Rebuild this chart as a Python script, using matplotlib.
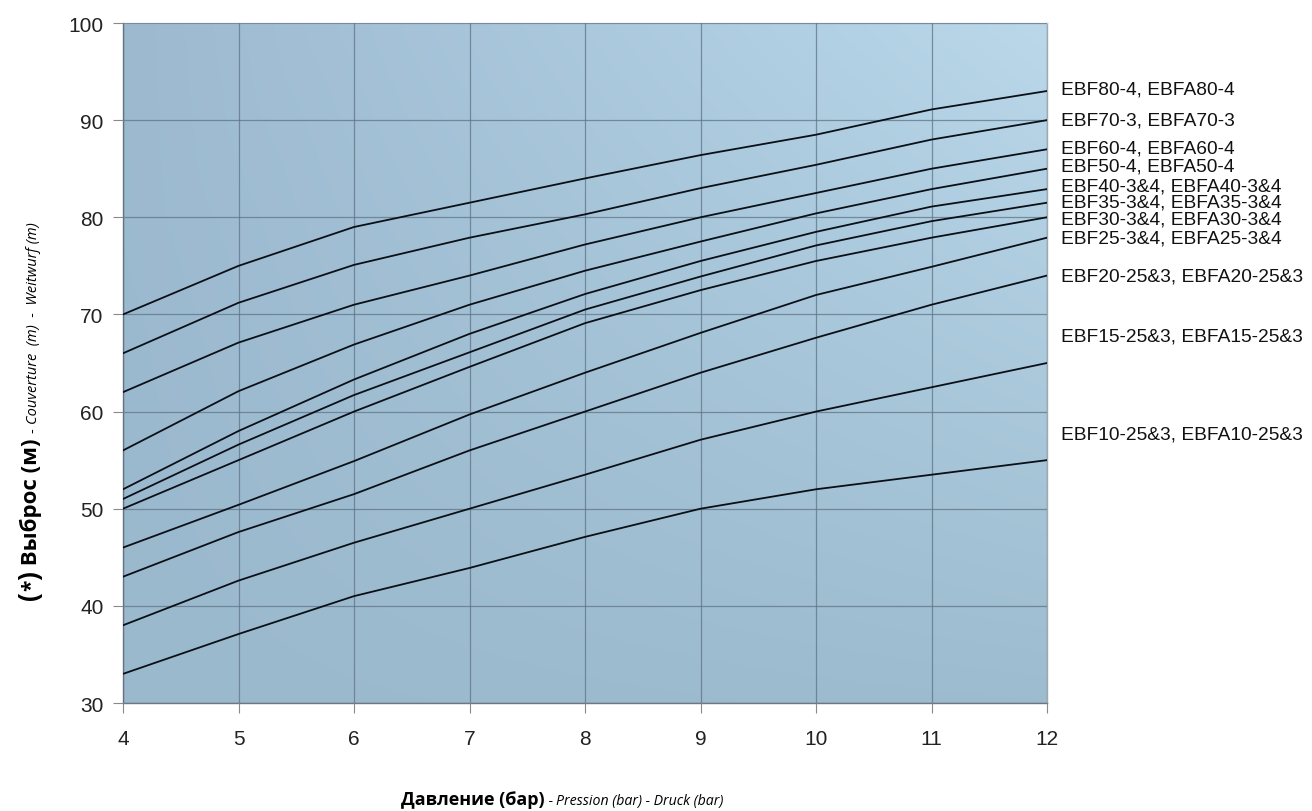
import numpy as np
import matplotlib
matplotlib.use("Agg")
import matplotlib.pyplot as plt

# ---- data ----
pressure = [4, 5, 6, 7, 8, 9, 10, 11, 12]

models = [
    "EBF80-4, EBFA80-4",
    "EBF70-3, EBFA70-3",
    "EBF60-4, EBFA60-4",
    "EBF50-4, EBFA50-4",
    "EBF40-3&4, EBFA40-3&4",
    "EBF35-3&4, EBFA35-3&4",
    "EBF30-3&4, EBFA30-3&4",
    "EBF25-3&4, EBFA25-3&4",
    "EBF20-25&3, EBFA20-25&3",
    "EBF15-25&3, EBFA15-25&3",
    "EBF10-25&3, EBFA10-25&3",
]

ebf80 = [70.0, 75.0, 79.0, 81.5, 84.0, 86.4, 88.5, 91.1, 93.0]
ebf70 = [66.0, 71.2, 75.1, 77.9, 80.3, 83.0, 85.4, 88.0, 90.0]
ebf60 = [62.0, 67.1, 71.0, 74.0, 77.2, 80.0, 82.5, 85.0, 87.0]
ebf50 = [56.0, 62.1, 66.9, 71.0, 74.5, 77.5, 80.4, 82.9, 85.0]
ebf40 = [52.0, 58.0, 63.3, 68.0, 72.1, 75.5, 78.5, 81.1, 82.9]
ebf35 = [51.0, 56.6, 61.7, 66.1, 70.5, 73.9, 77.1, 79.6, 81.5]
ebf30 = [50.0, 55.0, 60.0, 64.6, 69.1, 72.5, 75.5, 77.9, 80.0]
ebf25 = [46.0, 50.4, 54.9, 59.7, 64.0, 68.1, 72.0, 74.9, 77.9]
ebf20 = [43.0, 47.6, 51.5, 56.0, 60.0, 64.0, 67.6, 71.0, 74.0]
ebf15 = [38.0, 42.6, 46.5, 50.0, 53.5, 57.1, 60.0, 62.5, 65.0]
ebf10 = [33.0, 37.1, 41.0, 43.9, 47.1, 50.0, 52.0, 53.5, 55.0]

series = [ebf80, ebf70, ebf60, ebf50, ebf40, ebf35, ebf30, ebf25, ebf20, ebf15, ebf10]

x_ticks = [4, 5, 6, 7, 8, 9, 10, 11, 12]
y_ticks = [30, 40, 50, 60, 70, 80, 90, 100]

# label anchor heights (annotation placement, data units)
label_y = [93.2, 90.05, 87.13, 85.23, 83.17, 81.57, 79.82, 77.86, 73.96, 67.78, 57.69]

W, H = 1312, 812
fig = plt.figure(figsize=(W / 100, H / 100), dpi=100)
fig.patch.set_facecolor("white")

ax_l, ax_r, ax_t, ax_b = 123, 1047, 24, 704
ax = fig.add_axes([ax_l / W, 1 - ax_b / H, (ax_r - ax_l) / W, (ax_b - ax_t) / H])

ax.set_xlim(4, 12)
ax.set_ylim(30, 100)

# gradient background (bilinear between corner colours)
tl = np.array([156, 185, 208]) / 255
tr = np.array([186, 216, 234]) / 255
bl = np.array([155, 185, 205]) / 255
br = np.array([158, 188, 207]) / 255
nx, ny = 200, 100
u = np.linspace(0, 1, nx)[None, :, None]
v = np.linspace(0, 1, ny)[:, None, None]  # 0 top, 1 bottom
img = (1 - v) * ((1 - u) * tl + u * tr) + v * ((1 - u) * bl + u * br)
ax.imshow(img, extent=[4, 12, 30, 100], aspect="auto", origin="upper",
          interpolation="bilinear", zorder=0)

ax.set_xticks(x_ticks)
ax.set_yticks(y_ticks)
ax.grid(True, color="#5f7386", linewidth=0.9, alpha=0.75, zorder=1)
ax.set_axisbelow(False)

for ys in series:
    ax.plot(pressure, ys, color="#0a0f18", linewidth=1.3, zorder=3,
            solid_joinstyle="round")

for name, yl in zip(models, label_y):
    ax.text(12.12, yl, name, fontsize=13.8, family="Liberation Sans",
            va="center", ha="left", color="#111111", clip_on=False)

ax.tick_params(axis="both", direction="out", length=7, width=0.8,
               color="#8a8a8a", labelsize=15, labelcolor="#222222")
ax.tick_params(axis="x", pad=12)
ax.tick_params(axis="y", pad=7)
for lab in ax.get_xticklabels() + ax.get_yticklabels():
    lab.set_family("Liberation Sans")

for side, sp in ax.spines.items():
    sp.set_linewidth(1.0)
ax.spines["left"].set_color("#6d7780")
ax.spines["bottom"].set_color("#6d7780")
ax.spines["right"].set_color("#a0a8b0")
ax.spines["top"].set_color("#c8d2da")

# ---- composite axis titles ----
fig.canvas.draw()
renderer = fig.canvas.get_renderer()

def chain(segments, x0, y0, rotation):
    pos = [x0, y0]
    for txt, size, weight, style in segments:
        t = fig.text(pos[0] / W, pos[1] / H, txt, fontsize=size, fontweight=weight,
                     fontstyle=style, family="Open Sans", rotation=rotation,
                     rotation_mode="anchor", ha="left", va="baseline",
                     color="#000000")
        bb = t.get_window_extent(renderer)
        if rotation == 90:
            pos[1] = bb.y1
        else:
            pos[0] = bb.x1

y_segments = [
    ("(", 19, "bold", "normal"),
    ("*", 15, "bold", "normal"),
    (")", 19, "bold", "normal"),
    (" Выброс (м) ", 16, "bold", "normal"),
    ("- ", 10.5, "normal", "normal"),
    ("Couverture  (m)  -  Weitwurf (m)", 10.5, "normal", "italic"),
]
chain(y_segments, 37, H - 600, 90)

x_segments = [
    ("Давление (бар)", 13, "bold", "normal"),
    (" - ", 10, "normal", "normal"),
    ("Pression (bar) - Druck (bar)", 10.2, "normal", "italic"),
]
chain(x_segments, 401, H - 805, 0)

fig.savefig("out.png", dpi=100, facecolor="white")
